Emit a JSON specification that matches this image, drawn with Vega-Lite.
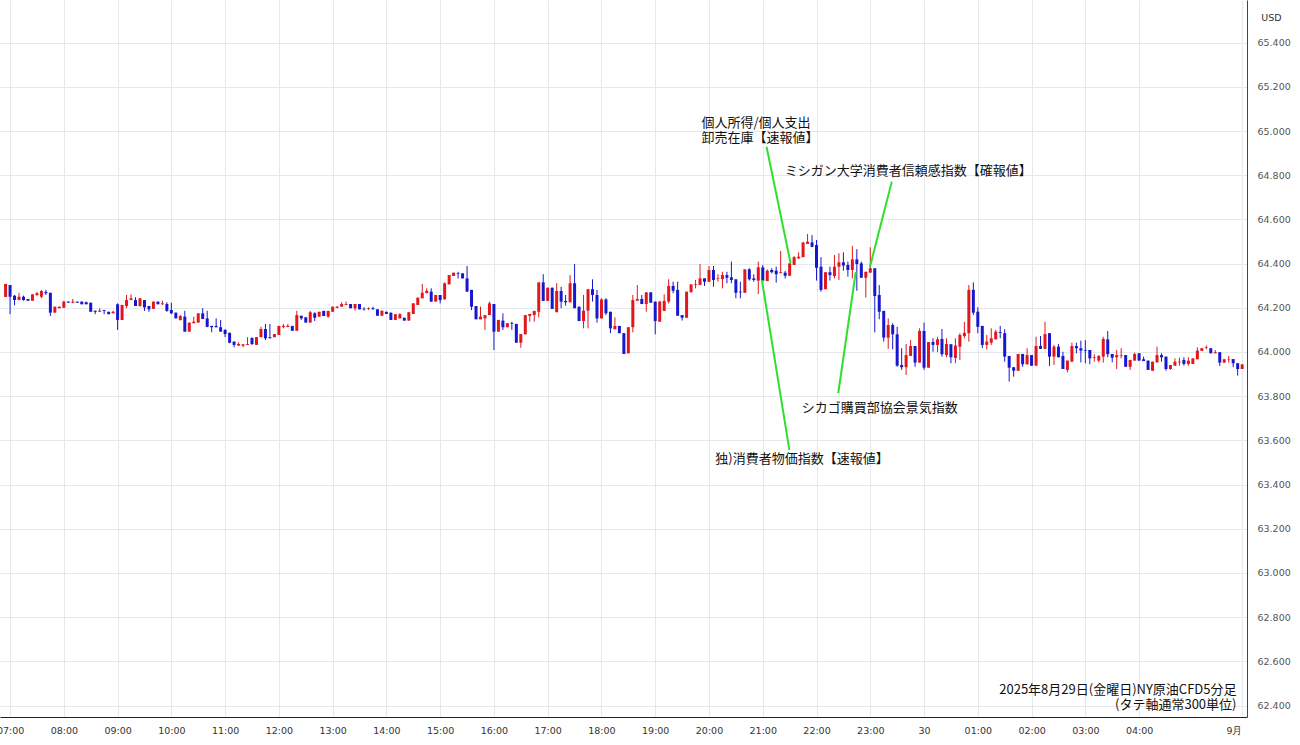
{
"$schema":"https://vega.github.io/schema/vega-lite/v6.json",
"width":1247,"height":717,
"autosize":{"type":"none"},
"padding":{"left":0,"top":0,"right":53,"bottom":28},
"background":"white",
"config":{"view":{"stroke":null},"font":"Noto Sans CJK JP"},
"datasets":{
"candles":[
{"t":"2025-08-29T06:55","o":64.249,"h":64.308,"l":64.249,"c":64.308},
{"t":"2025-08-29T07:00","o":64.303,"h":64.303,"l":64.171,"c":64.250},
{"t":"2025-08-29T07:05","o":64.255,"h":64.258,"l":64.211,"c":64.235},
{"t":"2025-08-29T07:10","o":64.235,"h":64.268,"l":64.235,"c":64.250},
{"t":"2025-08-29T07:15","o":64.250,"h":64.255,"l":64.232,"c":64.235},
{"t":"2025-08-29T07:20","o":64.240,"h":64.240,"l":64.232,"c":64.232},
{"t":"2025-08-29T07:25","o":64.232,"h":64.261,"l":64.232,"c":64.261},
{"t":"2025-08-29T07:30","o":64.258,"h":64.273,"l":64.253,"c":64.266},
{"t":"2025-08-29T07:35","o":64.250,"h":64.281,"l":64.243,"c":64.276},
{"t":"2025-08-29T07:40","o":64.272,"h":64.281,"l":64.258,"c":64.266},
{"t":"2025-08-29T07:45","o":64.268,"h":64.268,"l":64.163,"c":64.178},
{"t":"2025-08-29T07:50","o":64.178,"h":64.205,"l":64.178,"c":64.205},
{"t":"2025-08-29T07:55","o":64.198,"h":64.205,"l":64.198,"c":64.205},
{"t":"2025-08-29T08:00","o":64.200,"h":64.232,"l":64.200,"c":64.228},
{"t":"2025-08-29T08:05","o":64.228,"h":64.228,"l":64.223,"c":64.223},
{"t":"2025-08-29T08:10","o":64.223,"h":64.240,"l":64.220,"c":64.228},
{"t":"2025-08-29T08:15","o":64.228,"h":64.228,"l":64.223,"c":64.223},
{"t":"2025-08-29T08:20","o":64.228,"h":64.228,"l":64.216,"c":64.216},
{"t":"2025-08-29T08:25","o":64.225,"h":64.228,"l":64.216,"c":64.216},
{"t":"2025-08-29T08:30","o":64.223,"h":64.223,"l":64.182,"c":64.182},
{"t":"2025-08-29T08:35","o":64.187,"h":64.187,"l":64.171,"c":64.182},
{"t":"2025-08-29T08:40","o":64.182,"h":64.198,"l":64.182,"c":64.187},
{"t":"2025-08-29T08:45","o":64.190,"h":64.190,"l":64.171,"c":64.186},
{"t":"2025-08-29T08:50","o":64.182,"h":64.182,"l":64.171,"c":64.171},
{"t":"2025-08-29T08:55","o":64.175,"h":64.187,"l":64.175,"c":64.182},
{"t":"2025-08-29T09:00","o":64.216,"h":64.220,"l":64.100,"c":64.145},
{"t":"2025-08-29T09:05","o":64.145,"h":64.213,"l":64.145,"c":64.213},
{"t":"2025-08-29T09:10","o":64.208,"h":64.258,"l":64.198,"c":64.235},
{"t":"2025-08-29T09:15","o":64.235,"h":64.261,"l":64.235,"c":64.243},
{"t":"2025-08-29T09:20","o":64.235,"h":64.248,"l":64.208,"c":64.208},
{"t":"2025-08-29T09:25","o":64.208,"h":64.243,"l":64.205,"c":64.243},
{"t":"2025-08-29T09:30","o":64.235,"h":64.235,"l":64.186,"c":64.202},
{"t":"2025-08-29T09:35","o":64.208,"h":64.208,"l":64.182,"c":64.193},
{"t":"2025-08-29T09:40","o":64.195,"h":64.228,"l":64.195,"c":64.228},
{"t":"2025-08-29T09:45","o":64.228,"h":64.228,"l":64.216,"c":64.216},
{"t":"2025-08-29T09:50","o":64.216,"h":64.232,"l":64.213,"c":64.220},
{"t":"2025-08-29T09:55","o":64.217,"h":64.225,"l":64.182,"c":64.186},
{"t":"2025-08-29T10:00","o":64.190,"h":64.223,"l":64.171,"c":64.175},
{"t":"2025-08-29T10:05","o":64.178,"h":64.178,"l":64.152,"c":64.152},
{"t":"2025-08-29T10:10","o":64.145,"h":64.167,"l":64.142,"c":64.163},
{"t":"2025-08-29T10:15","o":64.160,"h":64.186,"l":64.092,"c":64.092},
{"t":"2025-08-29T10:20","o":64.092,"h":64.133,"l":64.092,"c":64.133},
{"t":"2025-08-29T10:25","o":64.130,"h":64.160,"l":64.130,"c":64.137},
{"t":"2025-08-29T10:30","o":64.133,"h":64.175,"l":64.133,"c":64.175},
{"t":"2025-08-29T10:35","o":64.175,"h":64.198,"l":64.149,"c":64.149},
{"t":"2025-08-29T10:40","o":64.152,"h":64.186,"l":64.112,"c":64.114},
{"t":"2025-08-29T10:45","o":64.118,"h":64.118,"l":64.089,"c":64.112},
{"t":"2025-08-29T10:50","o":64.118,"h":64.152,"l":64.112,"c":64.112},
{"t":"2025-08-29T10:55","o":64.112,"h":64.145,"l":64.092,"c":64.092},
{"t":"2025-08-29T11:00","o":64.100,"h":64.103,"l":64.067,"c":64.081},
{"t":"2025-08-29T11:05","o":64.087,"h":64.087,"l":64.039,"c":64.042},
{"t":"2025-08-29T11:10","o":64.047,"h":64.047,"l":64.021,"c":64.032},
{"t":"2025-08-29T11:15","o":64.029,"h":64.044,"l":64.029,"c":64.036},
{"t":"2025-08-29T11:20","o":64.029,"h":64.035,"l":64.021,"c":64.035},
{"t":"2025-08-29T11:25","o":64.032,"h":64.067,"l":64.032,"c":64.036},
{"t":"2025-08-29T11:30","o":64.063,"h":64.067,"l":64.032,"c":64.036},
{"t":"2025-08-29T11:35","o":64.032,"h":64.067,"l":64.032,"c":64.067},
{"t":"2025-08-29T11:40","o":64.067,"h":64.114,"l":64.067,"c":64.104},
{"t":"2025-08-29T11:45","o":64.104,"h":64.127,"l":64.054,"c":64.062},
{"t":"2025-08-29T11:50","o":64.067,"h":64.127,"l":64.062,"c":64.062},
{"t":"2025-08-29T11:55","o":64.067,"h":64.081,"l":64.067,"c":64.081},
{"t":"2025-08-29T12:00","o":64.077,"h":64.118,"l":64.077,"c":64.118},
{"t":"2025-08-29T12:05","o":64.113,"h":64.127,"l":64.107,"c":64.118},
{"t":"2025-08-29T12:10","o":64.113,"h":64.127,"l":64.112,"c":64.118},
{"t":"2025-08-29T12:15","o":64.118,"h":64.118,"l":64.096,"c":64.096},
{"t":"2025-08-29T12:20","o":64.096,"h":64.186,"l":64.096,"c":64.167},
{"t":"2025-08-29T12:25","o":64.164,"h":64.164,"l":64.145,"c":64.152},
{"t":"2025-08-29T12:30","o":64.157,"h":64.157,"l":64.133,"c":64.133},
{"t":"2025-08-29T12:35","o":64.133,"h":64.186,"l":64.133,"c":64.180},
{"t":"2025-08-29T12:40","o":64.175,"h":64.180,"l":64.140,"c":64.155},
{"t":"2025-08-29T12:45","o":64.160,"h":64.182,"l":64.160,"c":64.182},
{"t":"2025-08-29T12:50","o":64.186,"h":64.186,"l":64.163,"c":64.163},
{"t":"2025-08-29T12:55","o":64.160,"h":64.186,"l":64.155,"c":64.186},
{"t":"2025-08-29T13:00","o":64.182,"h":64.205,"l":64.182,"c":64.205},
{"t":"2025-08-29T13:05","o":64.200,"h":64.208,"l":64.198,"c":64.205},
{"t":"2025-08-29T13:10","o":64.205,"h":64.225,"l":64.205,"c":64.217},
{"t":"2025-08-29T13:15","o":64.213,"h":64.228,"l":64.213,"c":64.217},
{"t":"2025-08-29T13:20","o":64.217,"h":64.217,"l":64.198,"c":64.198},
{"t":"2025-08-29T13:25","o":64.198,"h":64.217,"l":64.187,"c":64.217},
{"t":"2025-08-29T13:30","o":64.217,"h":64.217,"l":64.193,"c":64.193},
{"t":"2025-08-29T13:35","o":64.196,"h":64.202,"l":64.187,"c":64.193},
{"t":"2025-08-29T13:40","o":64.195,"h":64.202,"l":64.190,"c":64.198},
{"t":"2025-08-29T13:45","o":64.198,"h":64.205,"l":64.193,"c":64.193},
{"t":"2025-08-29T13:50","o":64.193,"h":64.193,"l":64.164,"c":64.164},
{"t":"2025-08-29T13:55","o":64.164,"h":64.187,"l":64.164,"c":64.187},
{"t":"2025-08-29T14:00","o":64.182,"h":64.182,"l":64.172,"c":64.172},
{"t":"2025-08-29T14:05","o":64.178,"h":64.178,"l":64.145,"c":64.145},
{"t":"2025-08-29T14:10","o":64.145,"h":64.171,"l":64.145,"c":64.171},
{"t":"2025-08-29T14:15","o":64.152,"h":64.175,"l":64.152,"c":64.171},
{"t":"2025-08-29T14:20","o":64.155,"h":64.155,"l":64.142,"c":64.142},
{"t":"2025-08-29T14:25","o":64.142,"h":64.180,"l":64.142,"c":64.180},
{"t":"2025-08-29T14:30","o":64.172,"h":64.220,"l":64.172,"c":64.220},
{"t":"2025-08-29T14:35","o":64.213,"h":64.246,"l":64.213,"c":64.246},
{"t":"2025-08-29T14:40","o":64.243,"h":64.308,"l":64.243,"c":64.268},
{"t":"2025-08-29T14:45","o":64.266,"h":64.288,"l":64.266,"c":64.277},
{"t":"2025-08-29T14:50","o":64.273,"h":64.288,"l":64.228,"c":64.228},
{"t":"2025-08-29T14:55","o":64.228,"h":64.258,"l":64.228,"c":64.258},
{"t":"2025-08-29T15:00","o":64.258,"h":64.258,"l":64.220,"c":64.235},
{"t":"2025-08-29T15:05","o":64.238,"h":64.315,"l":64.238,"c":64.311},
{"t":"2025-08-29T15:10","o":64.306,"h":64.348,"l":64.306,"c":64.348},
{"t":"2025-08-29T15:15","o":64.344,"h":64.359,"l":64.344,"c":64.359},
{"t":"2025-08-29T15:20","o":64.356,"h":64.363,"l":64.333,"c":64.353},
{"t":"2025-08-29T15:25","o":64.356,"h":64.356,"l":64.333,"c":64.333},
{"t":"2025-08-29T15:30","o":64.333,"h":64.389,"l":64.273,"c":64.273},
{"t":"2025-08-29T15:35","o":64.281,"h":64.281,"l":64.190,"c":64.205},
{"t":"2025-08-29T15:40","o":64.208,"h":64.208,"l":64.148,"c":64.148},
{"t":"2025-08-29T15:45","o":64.148,"h":64.205,"l":64.148,"c":64.160},
{"t":"2025-08-29T15:50","o":64.152,"h":64.167,"l":64.100,"c":64.167},
{"t":"2025-08-29T15:55","o":64.167,"h":64.228,"l":64.167,"c":64.220},
{"t":"2025-08-29T16:00","o":64.217,"h":64.217,"l":64.009,"c":64.092},
{"t":"2025-08-29T16:05","o":64.092,"h":64.145,"l":64.092,"c":64.145},
{"t":"2025-08-29T16:10","o":64.142,"h":64.175,"l":64.100,"c":64.112},
{"t":"2025-08-29T16:15","o":64.112,"h":64.130,"l":64.112,"c":64.130},
{"t":"2025-08-29T16:20","o":64.130,"h":64.137,"l":64.100,"c":64.127},
{"t":"2025-08-29T16:25","o":64.127,"h":64.127,"l":64.042,"c":64.042},
{"t":"2025-08-29T16:30","o":64.042,"h":64.081,"l":64.019,"c":64.081},
{"t":"2025-08-29T16:35","o":64.080,"h":64.167,"l":64.080,"c":64.167},
{"t":"2025-08-29T16:40","o":64.163,"h":64.172,"l":64.137,"c":64.172},
{"t":"2025-08-29T16:45","o":64.167,"h":64.186,"l":64.137,"c":64.186},
{"t":"2025-08-29T16:50","o":64.182,"h":64.315,"l":64.157,"c":64.315},
{"t":"2025-08-29T16:55","o":64.315,"h":64.352,"l":64.231,"c":64.231},
{"t":"2025-08-29T17:00","o":64.231,"h":64.291,"l":64.231,"c":64.291},
{"t":"2025-08-29T17:05","o":64.291,"h":64.291,"l":64.195,"c":64.195},
{"t":"2025-08-29T17:10","o":64.180,"h":64.311,"l":64.180,"c":64.276},
{"t":"2025-08-29T17:15","o":64.276,"h":64.295,"l":64.198,"c":64.228},
{"t":"2025-08-29T17:20","o":64.231,"h":64.258,"l":64.210,"c":64.225},
{"t":"2025-08-29T17:25","o":64.225,"h":64.348,"l":64.225,"c":64.311},
{"t":"2025-08-29T17:30","o":64.311,"h":64.398,"l":64.198,"c":64.198},
{"t":"2025-08-29T17:35","o":64.205,"h":64.205,"l":64.140,"c":64.140},
{"t":"2025-08-29T17:40","o":64.140,"h":64.258,"l":64.107,"c":64.187},
{"t":"2025-08-29T17:45","o":64.187,"h":64.284,"l":64.107,"c":64.284},
{"t":"2025-08-29T17:50","o":64.284,"h":64.329,"l":64.228,"c":64.258},
{"t":"2025-08-29T17:55","o":64.258,"h":64.281,"l":64.133,"c":64.152},
{"t":"2025-08-29T18:00","o":64.152,"h":64.243,"l":64.152,"c":64.238},
{"t":"2025-08-29T18:05","o":64.238,"h":64.243,"l":64.167,"c":64.175},
{"t":"2025-08-29T18:10","o":64.182,"h":64.182,"l":64.085,"c":64.107},
{"t":"2025-08-29T18:15","o":64.103,"h":64.157,"l":64.103,"c":64.118},
{"t":"2025-08-29T18:20","o":64.118,"h":64.118,"l":64.085,"c":64.085},
{"t":"2025-08-29T18:25","o":64.085,"h":64.085,"l":63.991,"c":63.991},
{"t":"2025-08-29T18:30","o":63.994,"h":64.112,"l":63.994,"c":64.112},
{"t":"2025-08-29T18:35","o":64.112,"h":64.258,"l":64.089,"c":64.235},
{"t":"2025-08-29T18:40","o":64.232,"h":64.303,"l":64.232,"c":64.240},
{"t":"2025-08-29T18:45","o":64.240,"h":64.258,"l":64.217,"c":64.217},
{"t":"2025-08-29T18:50","o":64.217,"h":64.270,"l":64.182,"c":64.270},
{"t":"2025-08-29T18:55","o":64.270,"h":64.270,"l":64.223,"c":64.223},
{"t":"2025-08-29T19:00","o":64.228,"h":64.228,"l":64.080,"c":64.140},
{"t":"2025-08-29T19:05","o":64.137,"h":64.231,"l":64.137,"c":64.228},
{"t":"2025-08-29T19:10","o":64.186,"h":64.261,"l":64.186,"c":64.231},
{"t":"2025-08-29T19:15","o":64.228,"h":64.329,"l":64.220,"c":64.299},
{"t":"2025-08-29T19:20","o":64.299,"h":64.318,"l":64.266,"c":64.277},
{"t":"2025-08-29T19:25","o":64.281,"h":64.318,"l":64.164,"c":64.164},
{"t":"2025-08-29T19:30","o":64.167,"h":64.167,"l":64.142,"c":64.155},
{"t":"2025-08-29T19:35","o":64.155,"h":64.273,"l":64.155,"c":64.273},
{"t":"2025-08-29T19:40","o":64.270,"h":64.306,"l":64.270,"c":64.306},
{"t":"2025-08-29T19:45","o":64.303,"h":64.326,"l":64.288,"c":64.306},
{"t":"2025-08-29T19:50","o":64.303,"h":64.398,"l":64.303,"c":64.333},
{"t":"2025-08-29T19:55","o":64.333,"h":64.333,"l":64.299,"c":64.318},
{"t":"2025-08-29T20:00","o":64.318,"h":64.389,"l":64.318,"c":64.371},
{"t":"2025-08-29T20:05","o":64.371,"h":64.389,"l":64.295,"c":64.326},
{"t":"2025-08-29T20:10","o":64.330,"h":64.352,"l":64.318,"c":64.333},
{"t":"2025-08-29T20:15","o":64.330,"h":64.363,"l":64.288,"c":64.348},
{"t":"2025-08-29T20:20","o":64.348,"h":64.363,"l":64.311,"c":64.336},
{"t":"2025-08-29T20:25","o":64.338,"h":64.409,"l":64.311,"c":64.326},
{"t":"2025-08-29T20:30","o":64.329,"h":64.329,"l":64.243,"c":64.268},
{"t":"2025-08-29T20:35","o":64.273,"h":64.318,"l":64.243,"c":64.270},
{"t":"2025-08-29T20:40","o":64.268,"h":64.374,"l":64.268,"c":64.374},
{"t":"2025-08-29T20:45","o":64.374,"h":64.379,"l":64.323,"c":64.329},
{"t":"2025-08-29T20:50","o":64.333,"h":64.352,"l":64.318,"c":64.326},
{"t":"2025-08-29T20:55","o":64.323,"h":64.409,"l":64.262,"c":64.383},
{"t":"2025-08-29T21:00","o":64.383,"h":64.394,"l":64.318,"c":64.323},
{"t":"2025-08-29T21:05","o":64.321,"h":64.374,"l":64.321,"c":64.368},
{"t":"2025-08-29T21:10","o":64.371,"h":64.379,"l":64.356,"c":64.361},
{"t":"2025-08-29T21:15","o":64.368,"h":64.386,"l":64.314,"c":64.352},
{"t":"2025-08-29T21:20","o":64.357,"h":64.457,"l":64.356,"c":64.361},
{"t":"2025-08-29T21:25","o":64.359,"h":64.367,"l":64.333,"c":64.345},
{"t":"2025-08-29T21:30","o":64.345,"h":64.401,"l":64.345,"c":64.401},
{"t":"2025-08-29T21:35","o":64.394,"h":64.434,"l":64.394,"c":64.429},
{"t":"2025-08-29T21:40","o":64.424,"h":64.451,"l":64.421,"c":64.431},
{"t":"2025-08-29T21:45","o":64.429,"h":64.499,"l":64.429,"c":64.495},
{"t":"2025-08-29T21:50","o":64.489,"h":64.534,"l":64.489,"c":64.499},
{"t":"2025-08-29T21:55","o":64.496,"h":64.529,"l":64.474,"c":64.476},
{"t":"2025-08-29T22:00","o":64.484,"h":64.507,"l":64.323,"c":64.381},
{"t":"2025-08-29T22:05","o":64.386,"h":64.429,"l":64.273,"c":64.281},
{"t":"2025-08-29T22:10","o":64.284,"h":64.361,"l":64.284,"c":64.361},
{"t":"2025-08-29T22:15","o":64.361,"h":64.386,"l":64.323,"c":64.348},
{"t":"2025-08-29T22:20","o":64.344,"h":64.439,"l":64.333,"c":64.386},
{"t":"2025-08-29T22:25","o":64.386,"h":64.447,"l":64.326,"c":64.406},
{"t":"2025-08-29T22:30","o":64.406,"h":64.451,"l":64.368,"c":64.391},
{"t":"2025-08-29T22:35","o":64.394,"h":64.409,"l":64.341,"c":64.371},
{"t":"2025-08-29T22:40","o":64.371,"h":64.480,"l":64.333,"c":64.419},
{"t":"2025-08-29T22:45","o":64.419,"h":64.465,"l":64.277,"c":64.398},
{"t":"2025-08-29T22:50","o":64.401,"h":64.409,"l":64.336,"c":64.336},
{"t":"2025-08-29T22:55","o":64.336,"h":64.363,"l":64.246,"c":64.363},
{"t":"2025-08-29T23:00","o":64.359,"h":64.474,"l":64.359,"c":64.379},
{"t":"2025-08-29T23:05","o":64.379,"h":64.379,"l":64.089,"c":64.253},
{"t":"2025-08-29T23:10","o":64.258,"h":64.303,"l":64.148,"c":64.182},
{"t":"2025-08-29T23:15","o":64.186,"h":64.186,"l":64.047,"c":64.065},
{"t":"2025-08-29T23:20","o":64.065,"h":64.152,"l":64.014,"c":64.122},
{"t":"2025-08-29T23:25","o":64.122,"h":64.130,"l":64.012,"c":64.080},
{"t":"2025-08-29T23:30","o":64.080,"h":64.114,"l":63.933,"c":63.938},
{"t":"2025-08-29T23:35","o":63.941,"h":64.017,"l":63.919,"c":63.931},
{"t":"2025-08-29T23:40","o":63.931,"h":64.036,"l":63.896,"c":63.986},
{"t":"2025-08-29T23:45","o":63.982,"h":64.054,"l":63.982,"c":64.027},
{"t":"2025-08-29T23:50","o":64.027,"h":64.027,"l":63.933,"c":63.952},
{"t":"2025-08-29T23:55","o":63.952,"h":64.107,"l":63.952,"c":64.095},
{"t":"2025-08-30T00:00","o":64.095,"h":64.133,"l":63.919,"c":63.929},
{"t":"2025-08-30T00:05","o":63.929,"h":64.045,"l":63.929,"c":64.045},
{"t":"2025-08-30T00:10","o":64.045,"h":64.062,"l":64.001,"c":64.032},
{"t":"2025-08-30T00:15","o":64.032,"h":64.069,"l":63.999,"c":64.057},
{"t":"2025-08-30T00:20","o":64.059,"h":64.104,"l":63.979,"c":63.990},
{"t":"2025-08-30T00:25","o":63.986,"h":64.062,"l":63.976,"c":64.036},
{"t":"2025-08-30T00:30","o":64.035,"h":64.035,"l":63.949,"c":63.976},
{"t":"2025-08-30T00:35","o":63.973,"h":64.062,"l":63.949,"c":64.029},
{"t":"2025-08-30T00:40","o":64.024,"h":64.085,"l":63.964,"c":64.077},
{"t":"2025-08-30T00:45","o":64.072,"h":64.136,"l":64.062,"c":64.087},
{"t":"2025-08-30T00:50","o":64.085,"h":64.303,"l":64.047,"c":64.281},
{"t":"2025-08-30T00:55","o":64.281,"h":64.315,"l":64.167,"c":64.178},
{"t":"2025-08-30T01:00","o":64.182,"h":64.202,"l":64.085,"c":64.114},
{"t":"2025-08-30T01:05","o":64.118,"h":64.118,"l":64.017,"c":64.032},
{"t":"2025-08-30T01:10","o":64.032,"h":64.077,"l":64.012,"c":64.047},
{"t":"2025-08-30T01:15","o":64.042,"h":64.107,"l":64.032,"c":64.062},
{"t":"2025-08-30T01:20","o":64.057,"h":64.100,"l":64.057,"c":64.092},
{"t":"2025-08-30T01:25","o":64.090,"h":64.118,"l":64.062,"c":64.086},
{"t":"2025-08-30T01:30","o":64.085,"h":64.103,"l":63.956,"c":63.979},
{"t":"2025-08-30T01:35","o":63.982,"h":63.982,"l":63.866,"c":63.929},
{"t":"2025-08-30T01:40","o":63.931,"h":63.931,"l":63.888,"c":63.915},
{"t":"2025-08-30T01:45","o":63.915,"h":63.991,"l":63.915,"c":63.991},
{"t":"2025-08-30T01:50","o":63.991,"h":63.991,"l":63.933,"c":63.944},
{"t":"2025-08-30T01:55","o":63.944,"h":64.017,"l":63.944,"c":63.986},
{"t":"2025-08-30T02:00","o":63.986,"h":63.986,"l":63.938,"c":63.938},
{"t":"2025-08-30T02:05","o":63.938,"h":64.069,"l":63.938,"c":64.027},
{"t":"2025-08-30T02:10","o":64.027,"h":64.072,"l":64.014,"c":64.014},
{"t":"2025-08-30T02:15","o":64.014,"h":64.137,"l":64.014,"c":64.081},
{"t":"2025-08-30T02:20","o":64.085,"h":64.085,"l":63.937,"c":63.979},
{"t":"2025-08-30T02:25","o":63.979,"h":64.032,"l":63.941,"c":64.024},
{"t":"2025-08-30T02:30","o":64.024,"h":64.036,"l":63.976,"c":63.976},
{"t":"2025-08-30T02:35","o":63.982,"h":64.001,"l":63.923,"c":63.923},
{"t":"2025-08-30T02:40","o":63.919,"h":63.961,"l":63.908,"c":63.961},
{"t":"2025-08-30T02:45","o":63.956,"h":64.042,"l":63.956,"c":64.027},
{"t":"2025-08-30T02:50","o":64.027,"h":64.042,"l":63.994,"c":64.017},
{"t":"2025-08-30T02:55","o":64.017,"h":64.051,"l":63.953,"c":64.006},
{"t":"2025-08-30T03:00","o":64.009,"h":64.054,"l":63.949,"c":64.006},
{"t":"2025-08-30T03:05","o":64.009,"h":64.009,"l":63.944,"c":63.971},
{"t":"2025-08-30T03:10","o":63.974,"h":63.990,"l":63.956,"c":63.977},
{"t":"2025-08-30T03:15","o":63.961,"h":63.986,"l":63.953,"c":63.982},
{"t":"2025-08-30T03:20","o":63.979,"h":64.069,"l":63.952,"c":64.059},
{"t":"2025-08-30T03:25","o":64.057,"h":64.095,"l":63.976,"c":63.990},
{"t":"2025-08-30T03:30","o":63.991,"h":63.991,"l":63.953,"c":63.974},
{"t":"2025-08-30T03:35","o":63.976,"h":64.009,"l":63.923,"c":63.986},
{"t":"2025-08-30T03:40","o":63.983,"h":64.017,"l":63.971,"c":63.986},
{"t":"2025-08-30T03:45","o":63.986,"h":63.986,"l":63.933,"c":63.933},
{"t":"2025-08-30T03:50","o":63.933,"h":63.964,"l":63.919,"c":63.964},
{"t":"2025-08-30T03:55","o":63.961,"h":63.997,"l":63.961,"c":63.991},
{"t":"2025-08-30T04:00","o":63.994,"h":63.994,"l":63.961,"c":63.961},
{"t":"2025-08-30T04:05","o":63.967,"h":63.979,"l":63.959,"c":63.959},
{"t":"2025-08-30T04:10","o":63.961,"h":63.961,"l":63.919,"c":63.919},
{"t":"2025-08-30T04:15","o":63.915,"h":63.956,"l":63.915,"c":63.956},
{"t":"2025-08-30T04:20","o":63.953,"h":64.024,"l":63.953,"c":63.986},
{"t":"2025-08-30T04:25","o":63.986,"h":63.994,"l":63.956,"c":63.976},
{"t":"2025-08-30T04:30","o":63.979,"h":63.979,"l":63.915,"c":63.923},
{"t":"2025-08-30T04:35","o":63.923,"h":63.941,"l":63.919,"c":63.941},
{"t":"2025-08-30T04:40","o":63.938,"h":63.971,"l":63.938,"c":63.956},
{"t":"2025-08-30T04:45","o":63.953,"h":63.974,"l":63.938,"c":63.956},
{"t":"2025-08-30T04:50","o":63.964,"h":63.976,"l":63.938,"c":63.946},
{"t":"2025-08-30T04:55","o":63.946,"h":63.976,"l":63.938,"c":63.961},
{"t":"2025-08-30T05:00","o":63.946,"h":63.971,"l":63.946,"c":63.971},
{"t":"2025-08-30T05:05","o":63.967,"h":64.021,"l":63.967,"c":64.006},
{"t":"2025-08-30T05:10","o":64.005,"h":64.017,"l":64.005,"c":64.017},
{"t":"2025-08-30T05:15","o":64.018,"h":64.030,"l":64.012,"c":64.021},
{"t":"2025-08-30T05:20","o":64.017,"h":64.017,"l":63.994,"c":63.994},
{"t":"2025-08-30T05:25","o":63.994,"h":64.009,"l":63.994,"c":63.999},
{"t":"2025-08-30T05:30","o":63.999,"h":63.999,"l":63.937,"c":63.952},
{"t":"2025-08-30T05:35","o":63.952,"h":63.967,"l":63.952,"c":63.967},
{"t":"2025-08-30T05:40","o":63.965,"h":63.982,"l":63.952,"c":63.967},
{"t":"2025-08-30T05:45","o":63.968,"h":63.968,"l":63.931,"c":63.949},
{"t":"2025-08-30T05:50","o":63.949,"h":63.949,"l":63.893,"c":63.923},
{"t":"2025-08-30T05:55","o":63.923,"h":63.944,"l":63.923,"c":63.944}
],
"lines":[
{"t1":"2025-08-29T21:04:12","p1":64.929,"t2":"2025-08-29T21:31:00","p2":64.403},
{"t1":"2025-08-29T23:24:00","p1":64.771,"t2":"2025-08-29T22:59:36","p2":64.385},
{"t1":"2025-08-29T22:43:48","p1":64.362,"t2":"2025-08-29T22:24:15","p2":63.814},
{"t1":"2025-08-29T20:59:00","p1":64.326,"t2":"2025-08-29T21:29:42","p2":63.557}
],
"notes":[
{"t":"2025-08-29T19:51:30","p":65.036,"label":"個人所得/個人支出","side":"left"},
{"t":"2025-08-29T19:51:30","p":64.968,"label":"卸売在庫【速報値】","side":"left"},
{"t":"2025-08-29T21:24:30","p":64.819,"label":"ミシガン大学消費者信頼感指数【確報値】","side":"left"},
{"t":"2025-08-29T21:43:30","p":63.747,"label":"シカゴ購買部協会景気指数","side":"left"},
{"t":"2025-08-29T20:07:00","p":63.516,"label":"独)消費者物価指数【速報値】","side":"left"},
{"t":"2025-08-30T05:48:40","p":62.470,"label":"2025年8月29日(金曜日)NY原油CFD5分足","side":"right"},
{"t":"2025-08-30T05:48:40","p":62.404,"label":"(タテ軸通常300単位)","side":"right"}
]
},
"layer":[
{
"data":{"name":"candles"},
"mark":{"type":"rule","strokeWidth":1,"clip":true},
"encoding":{
"x":{"field":"t","type":"temporal",
 "scale":{"domain":[{"year":2025,"month":8,"date":29,"hours":6,"minutes":54,"seconds":21},{"year":2025,"month":8,"date":30,"hours":5,"minutes":54,"seconds":50}]},
 "axis":{"title":null,"orient":"bottom",
  "values":[
   {"year":2025,"month":8,"date":29,"hours":7},{"year":2025,"month":8,"date":29,"hours":8},{"year":2025,"month":8,"date":29,"hours":9},{"year":2025,"month":8,"date":29,"hours":10},{"year":2025,"month":8,"date":29,"hours":11},{"year":2025,"month":8,"date":29,"hours":12},{"year":2025,"month":8,"date":29,"hours":13},{"year":2025,"month":8,"date":29,"hours":14},{"year":2025,"month":8,"date":29,"hours":15},{"year":2025,"month":8,"date":29,"hours":16},{"year":2025,"month":8,"date":29,"hours":17},{"year":2025,"month":8,"date":29,"hours":18},{"year":2025,"month":8,"date":29,"hours":19},{"year":2025,"month":8,"date":29,"hours":20},{"year":2025,"month":8,"date":29,"hours":21},{"year":2025,"month":8,"date":29,"hours":22},{"year":2025,"month":8,"date":29,"hours":23},
   {"year":2025,"month":8,"date":30,"hours":0},{"year":2025,"month":8,"date":30,"hours":1},{"year":2025,"month":8,"date":30,"hours":2},{"year":2025,"month":8,"date":30,"hours":3},{"year":2025,"month":8,"date":30,"hours":4},
   {"year":2025,"month":8,"date":30,"hours":5,"minutes":54,"seconds":50}],
  "labelExpr":"hours(datum.value) == 5 ? '9月' : (hours(datum.value) == 0 ? '30' : timeFormat(datum.value, '%H:%M'))",
  "labelAlign":{"condition":{"test":"hours(datum.value) == 5","value":"right"},"value":"center"},
  "labelOverlap":false,"ticks":false,"labelPadding":8,
  "labelFont":"DejaVu Sans","labelFontSize":9.5,"labelColor":"#333333",
  "domainColor":"#222222","gridColor":"#e4e9ee","grid":true}},
"y":{"field":"l","type":"quantitative",
 "scale":{"domain":[62.348,65.593],"nice":false,"zero":false},
 "axis":{"orient":"right","title":"USD","titleAngle":0,"titleX":24,"titleY":17,"titleAlign":"center","titleBaseline":"middle","titleFontSize":9.5,"titleFontWeight":"normal","titleColor":"#333333","titleFont":"DejaVu Sans",
  "values":[62.4,62.6,62.8,63.0,63.2,63.4,63.6,63.8,64.0,64.2,64.4,64.6,64.8,65.0,65.2,65.4],
  "format":".3f","ticks":false,"labelPadding":10,"labelFont":"DejaVu Sans","labelFontSize":9.5,"labelColor":"#555555",
  "domainColor":"#444444","gridColor":"#e4e9ee","grid":true}},
"y2":{"field":"h"},
"color":{"condition":{"test":"datum.c >= datum.o","value":"#e3161c"},"value":"#1717cf"}
}
},
{
"data":{"name":"candles"},
"mark":{"type":"bar","width":3,"clip":true},
"encoding":{
"x":{"field":"t","type":"temporal"},
"y":{"field":"o","type":"quantitative"},
"y2":{"field":"c"},
"color":{"condition":{"test":"datum.c >= datum.o","value":"#e3161c"},"value":"#1717cf"}
}
},
{
"data":{"name":"lines"},
"mark":{"type":"rule","strokeWidth":2,"color":"#2ee02e"},
"encoding":{
"x":{"field":"t1","type":"temporal"},
"y":{"field":"p1","type":"quantitative"},
"x2":{"field":"t2"},
"y2":{"field":"p2"}
}
},
{
"data":{"name":"notes"},
"transform":[{"filter":"datum.side == 'left'"}],
"mark":{"type":"text","align":"left","baseline":"middle","fontSize":13,"font":"Noto Sans CJK JP","color":"#111111"},
"encoding":{
"x":{"field":"t","type":"temporal"},
"y":{"field":"p","type":"quantitative"},
"text":{"field":"label"}
}
},
{
"data":{"name":"notes"},
"transform":[{"filter":"datum.side == 'right'"}],
"mark":{"type":"text","align":"right","baseline":"middle","fontSize":13,"font":"Noto Sans CJK JP","color":"#111111"},
"encoding":{
"x":{"field":"t","type":"temporal"},
"y":{"field":"p","type":"quantitative"},
"text":{"field":"label"}
}
}
]
}
